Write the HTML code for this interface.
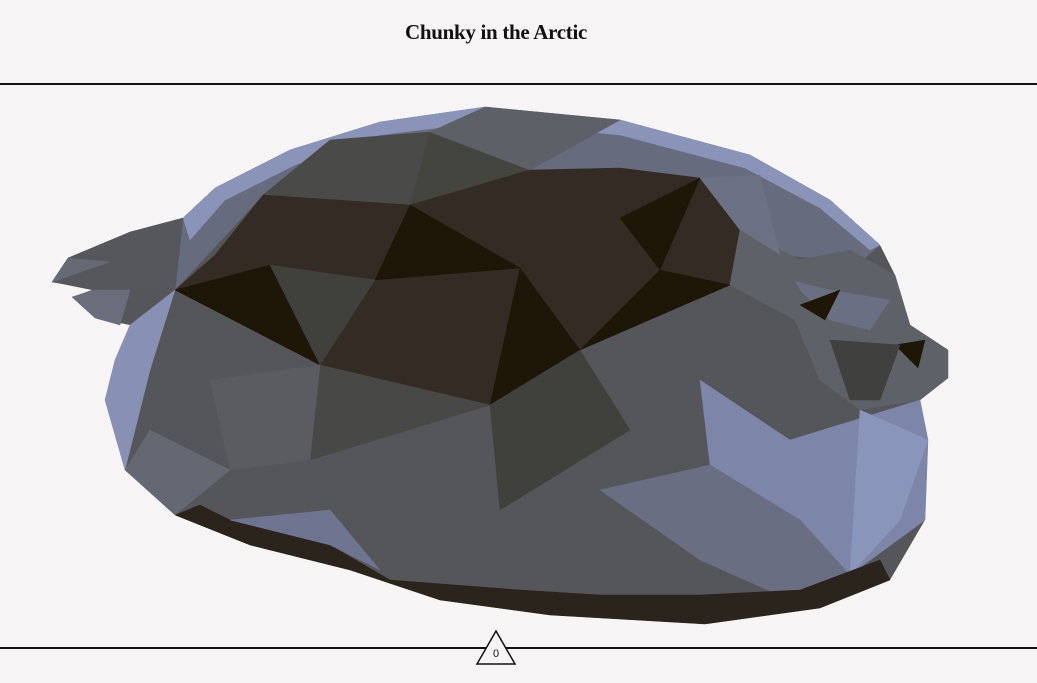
<!DOCTYPE html>
<html><head><meta charset="utf-8">
<style>
html,body{margin:0;padding:0;background:#f6f4f5;}
body{width:1037px;height:683px;position:relative;overflow:hidden;font-family:"Liberation Serif",serif;}
#title{position:absolute;left:400px;width:192px;top:20px;text-align:center;font-weight:bold;font-size:21px;color:#111;letter-spacing:-0.3px;white-space:nowrap;}
.hline{position:absolute;left:0;width:1037px;height:2px;background:#111;}
svg{position:absolute;left:0;top:0;}
</style></head>
<body>
<div id="title">Chunky in the Arctic</div>
<div class="hline" style="top:83px"></div>
<div class="hline" style="top:647px"></div>
<svg id="mesh" width="1037" height="683">
  <g id="g"></g>
  <g>
    <polygon points="496,631 477,664 515,664" fill="#f6f4f5" stroke="#111" stroke-width="1.5"/>
    <text x="496" y="657" text-anchor="middle" font-family="Liberation Sans, sans-serif" font-size="11" fill="#111">0</text>
  </g>
</svg>
<script>
const outline = [[52,282],[68,258],[130,232],[183,218],[215,188],[290,150],[380,122],[485,107],[620,120],[750,155],[830,200],[880,245],[895,275],[910,325],[948,350],[948,378],[920,400],[928,440],[925,520],[890,580],[820,608],[705,624],[550,615],[440,600],[350,570],[250,545],[175,515],[125,470],[105,400],[115,360],[130,325],[95,318],[72,297],[92,290]];
const faces = [
 [[183,218],[215,188],[290,150],[380,122],[485,107],[620,120],[750,155],[830,200],[880,245],[860,262],[780,255],[760,175],[700,178],[620,168],[530,170],[430,132],[330,140],[263,195],[175,290]],
 [[183,218],[215,188],[290,150],[380,122],[485,107],[620,120],[750,155],[830,200],[880,245],[870,250],[820,208],[745,168],[620,135],[485,122],[380,135],[295,165],[225,200],[190,240]],
 [[263,195],[330,140],[430,132],[410,205]],
 [[430,132],[530,170],[410,205]],
 [[485,107],[620,120],[530,170],[430,132]],
 [[263,195],[410,205],[530,170],[620,168],[700,178],[740,230],[730,285],[660,270],[580,350],[490,405],[320,365],[270,265],[175,290],[215,255]],
 [[175,290],[270,265],[320,365]],
 [[410,205],[520,268],[375,280]],
 [[520,268],[490,405],[580,350]],
 [[620,218],[700,178],[660,270]],
 [[580,350],[660,270],[730,285]],
 [[270,265],[375,280],[320,365]],
 [[320,365],[490,405],[310,460]],
 [[490,405],[580,350],[630,430],[500,510]],
 [[740,230],[800,260],[850,250],[895,275],[910,325],[948,350],[948,378],[920,400],[860,410],[820,380],[795,320],[730,285]],
 [[790,280],[830,290],[890,300],[870,330],[830,320]],
 [[800,305],[840,290],[825,320]],
 [[895,345],[925,340],[918,368]],
 [[830,340],[900,345],[880,400],[850,400]],
 [[700,380],[790,440],[920,400],[928,440],[925,520],[850,575],[800,520],[710,465]],
 [[860,410],[928,440],[900,520],[850,575]],
 [[600,490],[710,465],[800,520],[850,575],[790,600],[700,560]],
 [[175,515],[250,545],[350,570],[440,600],[550,615],[705,624],[820,608],[890,580],[880,560],[800,590],[700,595],[600,595],[520,590],[390,580],[330,545],[230,520],[200,505]],
 [[130,325],[175,290],[150,370],[125,470],[105,400],[115,360]],
 [[52,282],[68,258],[130,232],[183,218],[175,290],[110,290]],
 [[68,258],[110,262],[52,282]],
 [[72,297],[95,290],[130,290],[120,325],[95,318]],
 [[125,470],[175,515],[230,470],[150,430]],
 [[230,520],[330,510],[380,570],[330,545]],
 [[210,380],[320,365],[310,460],[230,470]],
 [[700,178],[760,175],[780,255],[740,230]],
 [[740,230],[780,255],[800,290],[730,285]]
];
const shades = ["#676b7e","#8a94b8","#4a4a48","#45453f","#5e6068","#342c24","#1e1708","#1e1708","#1e1708","#1e1708","#1e1708","#40403d","#484846","#40403d","#5f6168","#6a6f84","#1e1708","#1e1708","#40403e","#7d85a8","#8a95bb","#6a6e82","#2a241c","#8891b5","#55575c","#666a75","#6a6e7c","#646872","#6f7490","#5a5c62","#6d7186","#5f6168"];
const faceNames = faces.map((f,i)=>'mesh-face-'+i);
const g = document.getElementById('g');
const NS = 'http://www.w3.org/2000/svg';
const base = document.createElementNS(NS,'polygon');
base.setAttribute('points', outline.map(p=>p.join(',')).join(' '));
base.setAttribute('fill','#55565a');


g.appendChild(base);
faces.forEach((f,i)=>{
  const p = document.createElementNS(NS,'polygon');
  p.setAttribute('points', f.map(q=>q.join(',')).join(' '));
  p.setAttribute('fill', shades[i]);
  p.setAttribute('stroke', shades[i]);
  p.setAttribute('stroke-width','0.5');
  
  
  g.appendChild(p);
});
</script>
</body></html>
